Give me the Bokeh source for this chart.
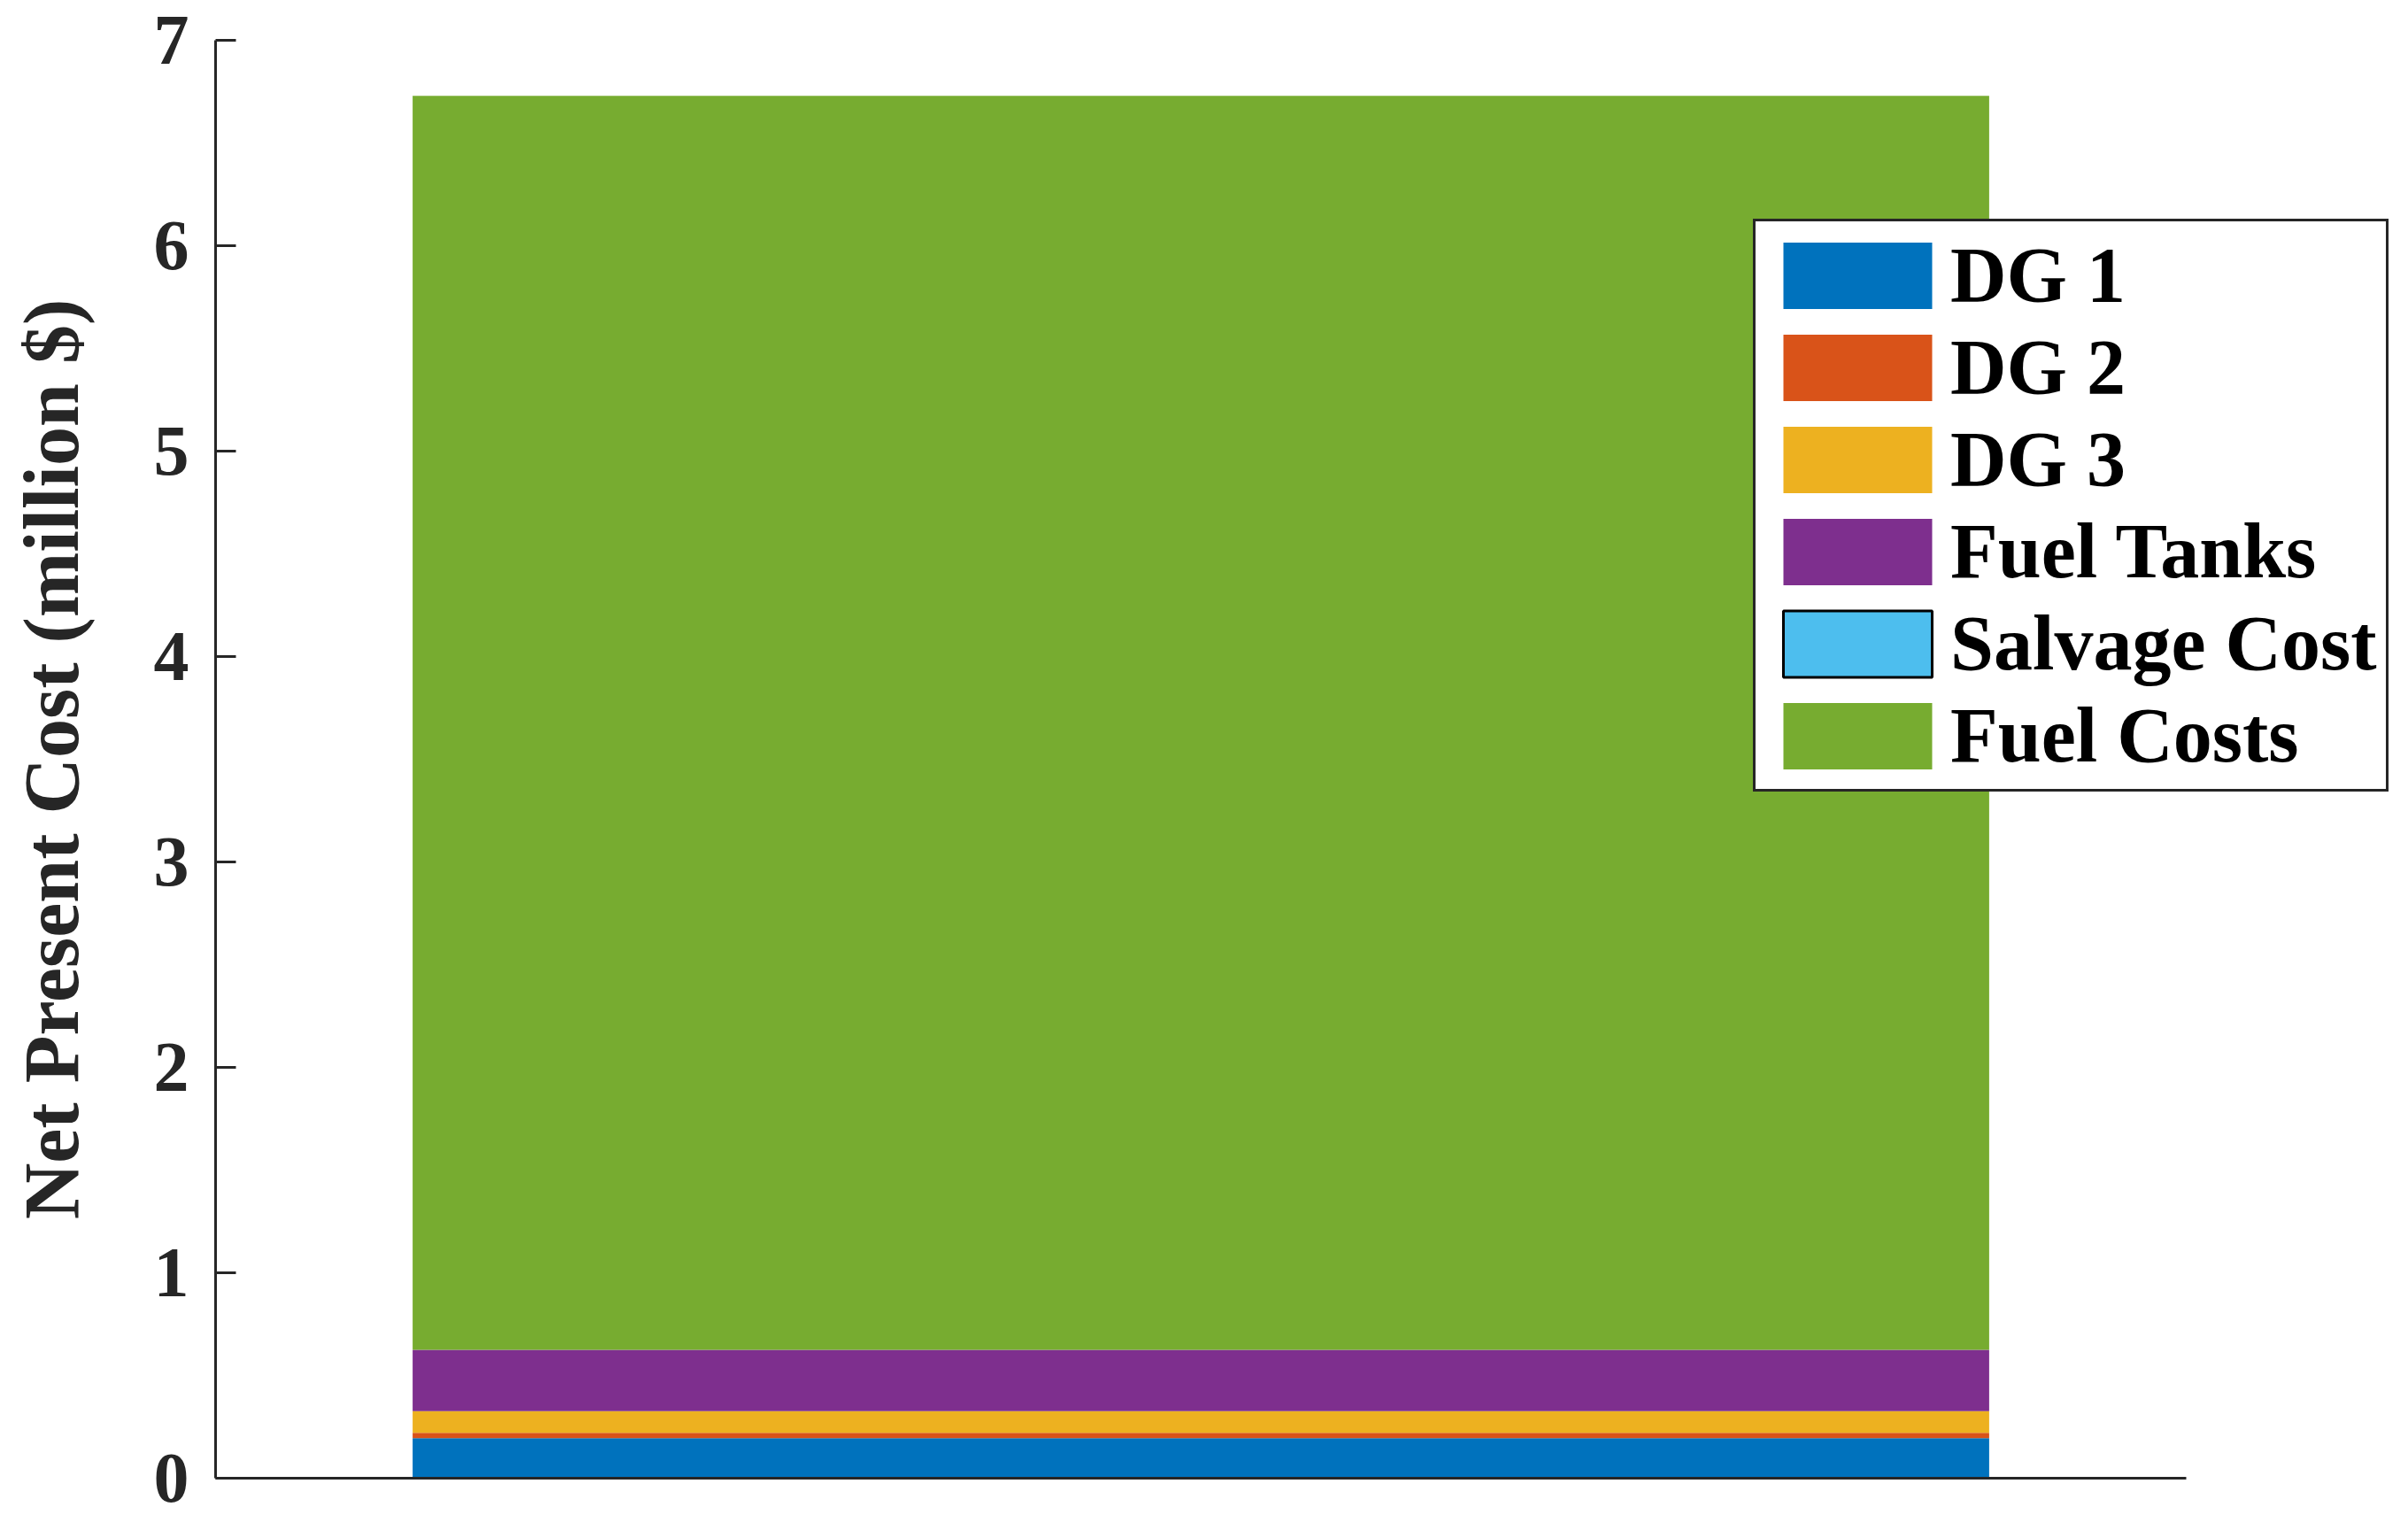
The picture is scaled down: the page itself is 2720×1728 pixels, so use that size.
from bokeh.plotting import figure
from bokeh.models import Range1d, FixedTicker, Legend, LegendItem, ColumnDataSource
from bokeh.embed import file_html
from bokeh.resources import INLINE

# ---- data (million $) ----
categories = ["DG 1", "DG 2", "DG 3", "Fuel Tanks", "Salvage Cost", "Fuel Costs"]
values = [0.195, 0.026, 0.105, 0.299, -0.004, 6.105]
colors = ["#0072BD", "#D95319", "#EDB120", "#7E2F8E", "#4DBEEE", "#77AC30"]
bar_x = [1]
xlim = (0.5, 1.5)
yticks = [0, 1, 2, 3, 4, 5, 6, 7]

FONT = "Liberation Serif"
W, H = 2704, 1712
LEFT, TOP, BOTTOM, RIGHT = 243, 45, 43, 5
AXIS_W = 2226                      # pixel length of the x axis (xlim)
frame_w = W - LEFT - RIGHT
x_end = xlim[0] + (xlim[1] - xlim[0]) * frame_w / AXIS_W

p = figure(width=W, height=H, output_backend="svg", toolbar_location=None,
           x_range=Range1d(xlim[0], x_end), y_range=Range1d(0, 7),
           min_border_left=LEFT, min_border_right=RIGHT,
           min_border_top=TOP, min_border_bottom=BOTTOM)
p.outline_line_color = None
p.grid.grid_line_color = None
p.background_fill_color = "white"

# stacking: positives from 0 upward, negatives from 0 downward
pos_base, neg_base = 0.0, 0.0
renderers = []
for name, v, c in zip(categories, values, colors):
    if v >= 0:
        bottom, top = pos_base, pos_base + v
        pos_base = top
    else:
        bottom, top = neg_base, neg_base + v
        neg_base = top
    src = ColumnDataSource(dict(x=bar_x, bottom=[bottom], top=[top]))
    if name == "Salvage Cost":
        r = p.vbar(x="x", bottom="bottom", top="top", width=0.8, source=src,
                   fill_color=c, line_color="black", line_width=3)
    else:
        r = p.vbar(x="x", bottom="bottom", top="top", width=0.8, source=src,
                   fill_color=c, line_color=None)
    renderers.append(r)

# axes
ya = p.yaxis[0]
ya.ticker = FixedTicker(ticks=yticks)
ya.axis_line_color = "#262626"
ya.axis_line_width = 3
ya.major_tick_line_color = "#262626"
ya.major_tick_line_width = 3
ya.major_tick_in = 23
ya.major_tick_out = 0
ya.minor_tick_line_color = None
ya.major_label_text_font = FONT
ya.major_label_text_font_style = "bold"
ya.major_label_text_font_size = "80px"
ya.major_label_text_color = "#262626"
ya.major_label_standoff = 30
ya.axis_label = "Net Present Cost (million $)"
ya.axis_label_text_font = FONT
ya.axis_label_text_font_style = "bold"
ya.axis_label_text_font_size = "88px"
ya.axis_label_text_color = "#262626"
ya.axis_label_standoff = 64

xa = p.xaxis[0]
xa.ticker = FixedTicker(ticks=[])
xa.bounds = xlim
xa.axis_line_color = "#262626"
xa.axis_line_width = 3
xa.major_tick_line_color = None
xa.minor_tick_line_color = None
xa.major_label_text_font_size = "0px"

items = [LegendItem(label=n, renderers=[r]) for n, r in zip(categories, renderers)]
legend = Legend(items=items, location=(1737, 775))
legend.label_text_font = FONT
legend.label_text_font_style = "bold"
legend.label_text_font_size = "88px"
legend.label_text_color = "black"
legend.glyph_width = 210
legend.glyph_height = 94
legend.label_height = 98
legend.label_standoff = 0
legend.spacing = 3
legend.padding = 10
legend.margin = 0
legend.border_line_color = "#262626"
legend.border_line_alpha = 1.0
legend.border_line_width = 3
legend.background_fill_color = "white"
legend.background_fill_alpha = 1.0
p.add_layout(legend, "center")

open("out.html", "w").write(file_html(p, INLINE))
